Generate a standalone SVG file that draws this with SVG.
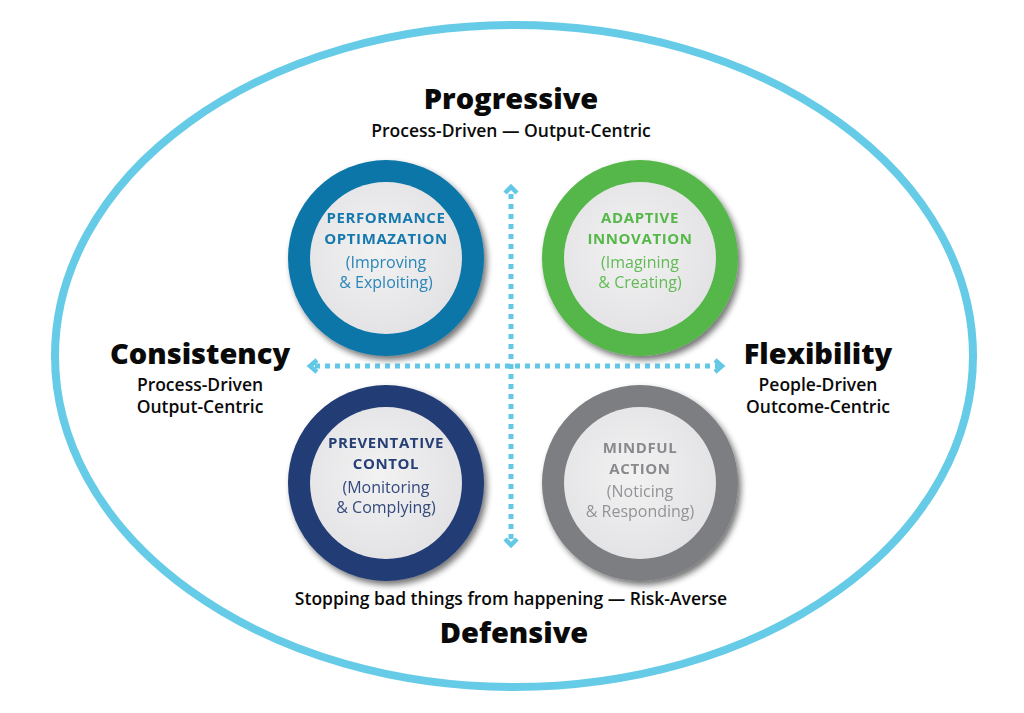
<svg xmlns="http://www.w3.org/2000/svg" width="1024" height="713" viewBox="0 0 1024 713">
  <defs>
    <style>
      .head { font-family: "Open Sans", "Noto Sans", sans-serif; font-weight: 800; font-size: 29px; fill: #0a0a0a; text-anchor: middle; }
      .sub { font-family: "Open Sans", "Noto Sans", sans-serif; font-weight: 600; font-size: 17.5px; fill: #0a0a0a; text-anchor: middle; }
      .ctitle { font-family: "Open Sans", "Noto Sans", sans-serif; font-weight: 700; font-size: 15px; letter-spacing: 0.6px; text-anchor: middle; }
      .csub { font-family: "Open Sans", "Noto Sans", sans-serif; font-weight: 400; font-size: 16px; text-anchor: middle; }
      .axis { fill: none; stroke: #62c8e6; stroke-width: 5; stroke-dasharray: 5 5; }
      .chev { fill: none; stroke: #62c8e6; stroke-width: 4.5; stroke-linejoin: miter; stroke-linecap: butt; }
    </style>
    <radialGradient id="core" cx="0.45" cy="0.45" r="0.6">
      <stop offset="0" stop-color="#f2f2f3"/>
      <stop offset="1" stop-color="#e2e2e4"/>
    </radialGradient>
    <filter id="shadow" x="-20%" y="-20%" width="150%" height="150%">
      <feGaussianBlur in="SourceAlpha" stdDeviation="3"/>
      <feOffset dx="3" dy="4" result="b"/>
      <feComponentTransfer><feFuncA type="linear" slope="0.55"/></feComponentTransfer>
      <feMerge><feMergeNode/><feMergeNode in="SourceGraphic"/></feMerge>
    </filter>
  </defs>

  <rect width="1024" height="713" fill="#ffffff"/>

  <!-- outer boundary -->
  <ellipse cx="514" cy="356" rx="459" ry="331" fill="none" stroke="#66cbe6" stroke-width="8"/>

  <!-- axes -->
  <g id="connectors">
    <line class="axis" x1="315" y1="366" x2="718" y2="366"/>
    <line class="axis" x1="511" y1="194" x2="511" y2="540"/>
    <polyline class="chev" points="317,360 310,366 317,372"/>
    <polyline class="chev" points="715,360 722,366 715,372"/>
    <polyline class="chev" points="505,193 511,187 517,193"/>
    <polyline class="chev" points="505,539 511,545 517,539"/>
  </g>

  <!-- quadrant circles -->
  <g id="performance" filter="url(#shadow)">
    <circle cx="386" cy="258" r="98" fill="#0b76a8"/>
    <circle cx="386" cy="258" r="76" fill="url(#core)"/>
    <text class="ctitle" fill="#1779ad" x="386" y="223">PERFORMANCE</text>
    <text class="ctitle" fill="#1779ad" x="386" y="244">OPTIMAZATION</text>
    <text class="csub" fill="#2a86b8" x="386" y="268">(Improving</text>
    <text class="csub" fill="#2a86b8" x="386" y="288">&amp; Exploiting)</text>
  </g>

  <g id="adaptive" filter="url(#shadow)">
    <circle cx="640" cy="258" r="98" fill="#55b74a"/>
    <circle cx="640" cy="258" r="76" fill="url(#core)"/>
    <text class="ctitle" fill="#56b84a" x="640" y="223">ADAPTIVE</text>
    <text class="ctitle" fill="#56b84a" x="640" y="244">INNOVATION</text>
    <text class="csub" fill="#62bb55" x="640" y="268">(Imagining</text>
    <text class="csub" fill="#62bb55" x="640" y="288">&amp; Creating)</text>
  </g>

  <g id="preventative" filter="url(#shadow)">
    <circle cx="386" cy="483" r="98" fill="#233c74"/>
    <circle cx="386" cy="483" r="76" fill="url(#core)"/>
    <text class="ctitle" fill="#273f75" x="386" y="448">PREVENTATIVE</text>
    <text class="ctitle" fill="#273f75" x="386" y="469">CONTOL</text>
    <text class="csub" fill="#344a7c" x="386" y="493">(Monitoring</text>
    <text class="csub" fill="#344a7c" x="386" y="513">&amp; Complying)</text>
  </g>

  <g id="mindful" filter="url(#shadow)">
    <circle cx="640" cy="483" r="98" fill="#7d7e81"/>
    <circle cx="640" cy="483" r="76" fill="url(#core)"/>
    <text class="ctitle" fill="#8a8a8c" x="640" y="453">MINDFUL</text>
    <text class="ctitle" fill="#8a8a8c" x="640" y="474">ACTION</text>
    <text class="csub" fill="#949496" x="640" y="497">(Noticing</text>
    <text class="csub" fill="#949496" x="640" y="517">&amp; Responding)</text>
  </g>

  <!-- pole labels -->
  <g id="progressive">
    <text class="head" x="511" y="109">Progressive</text>
    <text class="sub" x="511" y="137">Process-Driven — Output-Centric</text>
  </g>
  <g id="defensive">
    <text class="sub" x="511" y="605">Stopping bad things from happening — Risk-Averse</text>
    <text class="head" x="514" y="643">Defensive</text>
  </g>
  <g id="consistency">
    <text class="head" x="200" y="364">Consistency</text>
    <text class="sub" x="200" y="391">Process-Driven</text>
    <text class="sub" x="200" y="413">Output-Centric</text>
  </g>
  <g id="flexibility">
    <text class="head" x="818" y="364">Flexibility</text>
    <text class="sub" x="818" y="391">People-Driven</text>
    <text class="sub" x="818" y="413">Outcome-Centric</text>
  </g>
</svg>
